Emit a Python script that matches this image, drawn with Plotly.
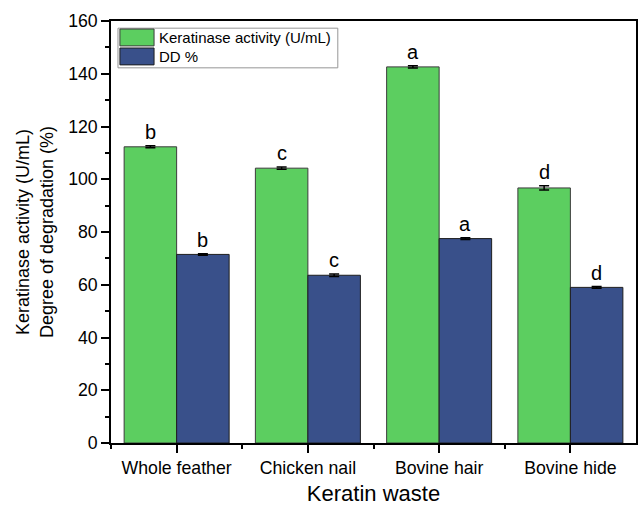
import plotly.graph_objects as go

categories = ["Whole feather", "Chicken nail", "Bovine hair", "Bovine hide"]
keratinase = [112.3, 104.2, 142.6, 96.7]
keratinase_err = [0.4, 0.4, 0.4, 0.8]
dd = [71.5, 63.6, 77.5, 59.0]
dd_err = [0.3, 0.5, 0.3, 0.3]
keratinase_letters = ["b", "c", "a", "d"]
dd_letters = ["b", "c", "a", "d"]
series_names = ["Keratinase activity (U/mL)", "DD %"]

GREEN = "rgb(92,206,96)"
BLUE = "rgb(57,80,138)"
FONT = "Liberation Sans, Arial, sans-serif"

xpos = list(range(len(categories)))

fig = go.Figure()
fig.add_trace(go.Bar(
    x=xpos, y=keratinase, name=series_names[0],
    marker=dict(color=GREEN, line=dict(color="rgb(60,60,60)", width=1)),
    error_y=dict(type="data", array=keratinase_err, color="black", thickness=1.5, width=5),
    showlegend=False,
))
fig.add_trace(go.Bar(
    x=xpos, y=dd, name=series_names[1],
    marker=dict(color=BLUE, line=dict(color="rgb(30,30,30)", width=1)),
    error_y=dict(type="data", array=dd_err, color="black", thickness=1.5, width=5),
    showlegend=False,
))

# significance letters
for i in xpos:
    fig.add_annotation(x=i - 0.2, y=keratinase[i] + keratinase_err[i], text=keratinase_letters[i],
                       showarrow=False, yanchor="bottom", yshift=1,
                       font=dict(family=FONT, size=20, color="black"))
    fig.add_annotation(x=i + 0.2, y=dd[i] + dd_err[i], text=dd_letters[i],
                       showarrow=False, yanchor="bottom", yshift=1,
                       font=dict(family=FONT, size=20, color="black"))

# manual legend
fig.add_shape(type="rect", xref="paper", yref="paper", x0=0.0133, x1=0.432, y0=0.889, y1=0.983,
              line=dict(color="rgb(150,150,150)", width=1), fillcolor="white")
fig.add_shape(type="rect", xref="paper", yref="paper", x0=0.017, x1=0.082, y0=0.941, y1=0.981,
              line=dict(color="rgb(60,60,60)", width=1), fillcolor=GREEN)
fig.add_shape(type="rect", xref="paper", yref="paper", x0=0.017, x1=0.082, y0=0.896, y1=0.936,
              line=dict(color="rgb(30,30,30)", width=1), fillcolor=BLUE)
fig.add_annotation(xref="paper", yref="paper", x=0.088, y=0.962, text=series_names[0],
                   showarrow=False, xanchor="left", yanchor="middle",
                   font=dict(family=FONT, size=15, color="black"))
fig.add_annotation(xref="paper", yref="paper", x=0.088, y=0.916, text=series_names[1],
                   showarrow=False, xanchor="left", yanchor="middle",
                   font=dict(family=FONT, size=15, color="black"))

fig.update_layout(
    width=638, height=509,
    margin=dict(l=111, r=2, t=21, b=66, autoexpand=False),
    paper_bgcolor="white", plot_bgcolor="white",
    barmode="group", bargap=0.2, bargroupgap=0,
    font=dict(family=FONT, size=17.7, color="black"),
    xaxis=dict(
        range=[-0.5, 3.5], tickmode="array", tickvals=xpos, ticktext=categories,
        showline=True, linecolor="black", linewidth=1.5, mirror=True,
        ticks="outside", ticklen=8, tickwidth=1.5, tickcolor="black",
        minor=dict(tickmode="array", tickvals=[-0.5, 0.5, 1.5, 2.5], ticks="outside", ticklen=4, tickwidth=1.5, tickcolor="black"),
        showgrid=False, zeroline=False, automargin=False,
        tickfont=dict(family=FONT, size=17.7),
        title=dict(text="Keratin waste", font=dict(family=FONT, size=22), standoff=9),
    ),
    yaxis=dict(
        range=[0, 160], dtick=20, tick0=0,
        showline=True, linecolor="black", linewidth=1.5, mirror=True,
        ticks="outside", ticklen=8, tickwidth=1.5, tickcolor="black",
        minor=dict(dtick=10, ticks="outside", ticklen=4, tickwidth=1.5, tickcolor="black"),
        showgrid=False, zeroline=False, automargin=False,
        tickfont=dict(family=FONT, size=17.7),
        title=dict(text="Keratinase activity (U/mL)<br>Degree of degradation (%)",
                   font=dict(family=FONT, size=18), standoff=10),
    ),
)

fig.write_html("out.html",
               config={"displayModeBar": False},
               post_script="document.body.style.margin='0';document.body.style.overflow='hidden';")
